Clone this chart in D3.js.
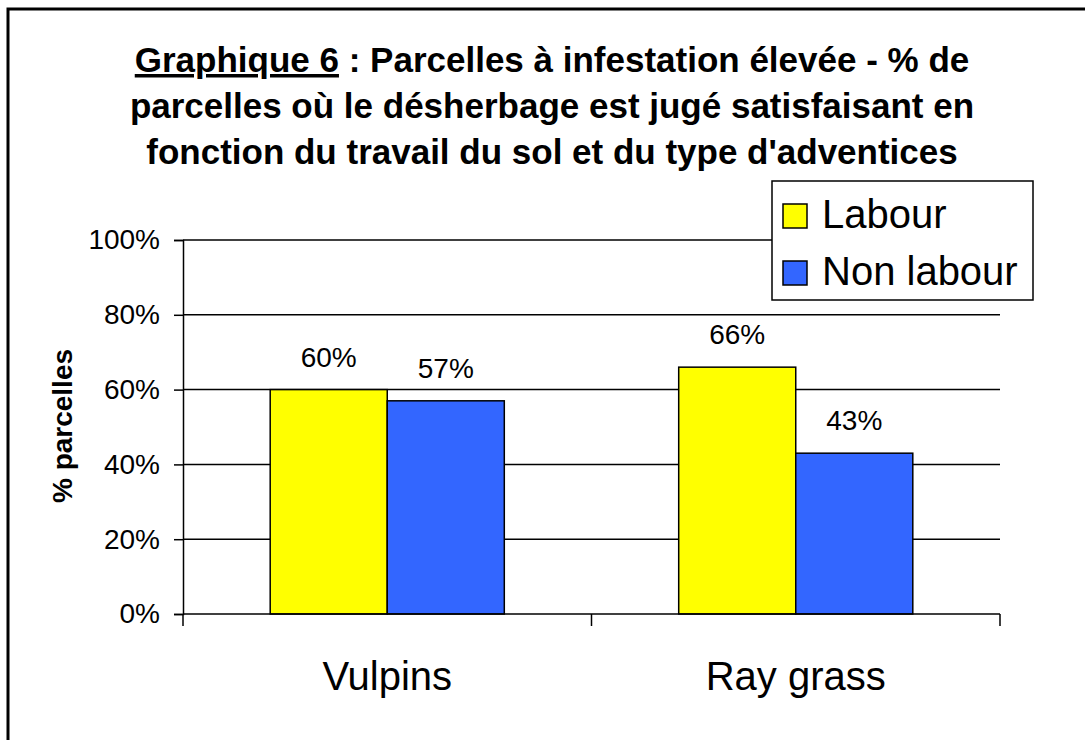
<!DOCTYPE html>
<meta charset="utf-8">
<script src="https://d3js.org/d3.v7.min.js"></script>
<style>
  body { margin: 0; background: #fff; }
  text { font-family: "Liberation Sans", Arial, sans-serif; fill: #000; }
</style>
<div id="chart"></div>
<script>
// data
var categories = ["Vulpins", "Ray grass"];
var series = ["Labour", "Non labour"];
var labourValues = [0.60, 0.66];
var nonLabourValues = [0.57, 0.43];
var yTicks = [0, 0.2, 0.4, 0.6, 0.8, 1.0];
var colors = ["#FFFF00", "#3366FF"];

var width = 1085, height = 740;

var svg = d3.select("#chart").append("svg")
  .attr("width", width)
  .attr("height", height);

// outer frame (cut by the picture on the right and bottom)
svg.append("rect")
  .attr("x", 8).attr("y", 9)
  .attr("width", 1200).attr("height", 900)
  .attr("fill", "none")
  .attr("stroke", "#000")
  .attr("stroke-width", 3);

// title
var title = svg.append("text")
  .attr("text-anchor", "middle")
  .attr("font-weight", "bold")
  .attr("font-size", 35);
var l1 = title.append("tspan").attr("x", 552).attr("y", 72);
l1.append("tspan").style("text-decoration", "underline").text("Graphique 6");
l1.append("tspan").text(" : Parcelles à infestation élevée - % de");
title.append("tspan").attr("x", 552).attr("y", 118)
  .text("parcelles où le désherbage est jugé satisfaisant en");
title.append("tspan").attr("x", 552).attr("y", 164)
  .text("fonction du travail du sol et du type d'adventices");

// scales
var x0 = d3.scaleBand().domain(categories).range([183, 1000]).padding(0);
var x1 = d3.scaleBand().domain(series).range([0, x0.bandwidth()])
  .paddingInner(0).paddingOuter(0.745);
var y = d3.scaleLinear().domain([0, 1]).range([614, 240]);

// gridlines
svg.append("g")
  .selectAll("line")
  .data(yTicks.slice(1))
  .enter().append("line")
  .attr("x1", 183).attr("x2", 1000)
  .attr("y1", function(d) { return y(d); })
  .attr("y2", function(d) { return y(d); })
  .attr("stroke", "#000")
  .attr("stroke-width", 1.5);

// bars
var rows = categories.map(function(c, i) {
  return { cat: c, vals: [labourValues[i], nonLabourValues[i]] };
});

var groups = svg.selectAll(".grp")
  .data(rows)
  .enter().append("g")
  .attr("transform", function(d) { return "translate(" + x0(d.cat) + ",0)"; });

groups.selectAll("rect")
  .data(function(d) { return d.vals.map(function(v, j) { return { s: series[j], v: v, j: j }; }); })
  .enter().append("rect")
  .attr("x", function(d) { return x1(d.s); })
  .attr("y", function(d) { return y(d.v); })
  .attr("width", x1.bandwidth())
  .attr("height", function(d) { return y(0) - y(d.v); })
  .attr("fill", function(d) { return colors[d.j]; })
  .attr("stroke", "#000")
  .attr("stroke-width", 1.5);

groups.selectAll(".val")
  .data(function(d) { return d.vals.map(function(v, j) { return { s: series[j], v: v }; }); })
  .enter().append("text")
  .attr("class", "val")
  .attr("x", function(d) { return x1(d.s) + x1.bandwidth() / 2; })
  .attr("y", function(d) { return y(d.v) - 23; })
  .attr("text-anchor", "middle")
  .attr("font-size", 28)
  .text(function(d) { return Math.round(d.v * 100) + "%"; });

// y axis
var yAxis = svg.append("g")
  .attr("transform", "translate(183,0)")
  .call(d3.axisLeft(y).tickValues(yTicks).tickSize(9).tickPadding(14)
    .tickFormat(function(d) { return Math.round(d * 100) + "%"; }));
yAxis.select(".domain").attr("stroke-width", 1.5);
yAxis.selectAll(".tick line").attr("stroke-width", 1.5);
yAxis.selectAll(".tick text")
  .attr("font-size", 28)
  .attr("font-family", "Liberation Sans, Arial, sans-serif")
  .attr("fill", "#000");

// x axis: ticks at category boundaries
var xAxis = svg.append("g").attr("transform", "translate(0,614)");
xAxis.append("line")
  .attr("x1", 183).attr("x2", 1000)
  .attr("stroke", "#000").attr("stroke-width", 1.5);
var bounds = categories.map(function(c) { return x0(c); }).concat([x0.range()[1]]);
xAxis.selectAll(".xt")
  .data(bounds)
  .enter().append("line")
  .attr("x1", function(d) { return d; }).attr("x2", function(d) { return d; })
  .attr("y1", 0).attr("y2", 12)
  .attr("stroke", "#000").attr("stroke-width", 1.5);
xAxis.selectAll(".cat")
  .data(categories)
  .enter().append("text")
  .attr("x", function(d) { return x0(d) + x0.bandwidth() / 2; })
  .attr("y", 76)
  .attr("text-anchor", "middle")
  .attr("font-size", 40)
  .text(function(d) { return d; });

// y axis title
svg.append("text")
  .attr("transform", "translate(72,426) rotate(-90)")
  .attr("text-anchor", "middle")
  .attr("font-weight", "bold")
  .attr("font-size", 28)
  .text("% parcelles");

// legend
var legend = svg.append("g").attr("transform", "translate(772,181)");
legend.append("rect")
  .attr("width", 261).attr("height", 119)
  .attr("fill", "#fff")
  .attr("stroke", "#000")
  .attr("stroke-width", 1.5);
var items = legend.selectAll(".item")
  .data(series)
  .enter().append("g")
  .attr("transform", function(d, i) { return "translate(11," + (23 + i * 57) + ")"; });
items.append("rect")
  .attr("width", 24).attr("height", 24)
  .attr("fill", function(d, i) { return colors[i]; })
  .attr("stroke", "#000")
  .attr("stroke-width", 1.5);
items.append("text")
  .attr("x", 39).attr("y", 24)
  .attr("font-size", 40)
  .text(function(d) { return d; });
</script>
